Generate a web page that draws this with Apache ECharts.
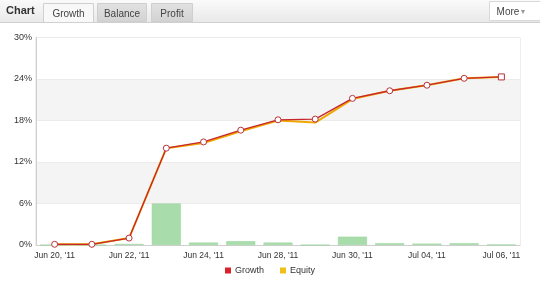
<!DOCTYPE html>
<html>
<head>
<meta charset="utf-8">
<script src="https://cdn.jsdelivr.net/npm/echarts@6/dist/echarts.min.js"></script>
<style>
html,body{margin:0;padding:0;background:#fff;}
#chart{width:540px;height:283px;}
</style>
</head>
<body>
<div id="chart"></div>
<script>
const categories = ["Jun 20, '11","Jun 21, '11","Jun 22, '11","Jun 23, '11","Jun 24, '11","Jun 27, '11","Jun 28, '11","Jun 29, '11","Jun 30, '11","Jul 01, '11","Jul 04, '11","Jul 05, '11","Jul 06, '11"];
const growth = [0.1, 0.1, 1.0, 14.0, 14.9, 16.6, 18.1, 18.2, 21.2, 22.3, 23.1, 24.1, 24.3];
const equity = [0.1, 0.1, 1.0, 14.0, 14.75, 16.45, 18.0, 17.7, 21.1, 22.3, 23.1, 24.1, 24.3];
const dailyBars = [0, 0, 0.15, 6.0, 0.35, 0.55, 0.35, 0, 1.2, 0.25, 0.2, 0.25, 0.05];
const yTickValues = [0, 6, 12, 18, 24, 30];
const tabs = ["Growth", "Balance", "Profit"];

const chart = echarts.init(document.getElementById('chart'), null, {renderer: 'canvas'});
const FONT = 'Liberation Sans, Arial, sans-serif';

const growthData = growth.map((v, i) => i === growth.length - 1
  ? {value: v, symbol: 'rect', symbolSize: 6}
  : v);

chart.setOption({
  animation: false,
  backgroundColor: '#fff',
  grid: {left: 36, right: 20, top: 37.5, bottom: 38, show: true, borderColor: '#dcdcdc', borderWidth: 1},
  xAxis: {
    type: 'category',
    data: categories,
    boundaryGap: true,
    axisLine: {lineStyle: {color: '#cfcfcf'}},
    axisTick: {show: false},
    axisLabel: {interval: 1, color: '#333', fontSize: 8.5, fontFamily: FONT, margin: 6}
  },
  yAxis: {
    type: 'value',
    min: yTickValues[0],
    max: yTickValues[yTickValues.length - 1],
    interval: yTickValues[1] - yTickValues[0],
    axisLine: {show: true, lineStyle: {color: '#cfcfcf'}},
    axisTick: {show: false},
    axisLabel: {formatter: '{value}%', color: '#333', fontSize: 9, fontFamily: FONT, margin: 4},
    splitLine: {show: true, lineStyle: {color: '#ececec'}},
    splitArea: {show: true, areaStyle: {color: ['#ffffff', '#f4f4f4']}}
  },
  legend: {
    bottom: 3,
    left: 'center',
    icon: 'rect',
    itemWidth: 6,
    itemHeight: 6,
    itemGap: 16,
    textStyle: {fontSize: 9, fontFamily: FONT, color: '#333', padding: [0, 0, 0, -1]},
    data: [
      {name: 'Growth', itemStyle: {color: '#d8232a', borderWidth: 0}},
      {name: 'Equity', itemStyle: {color: '#efc01a', borderWidth: 0}}
    ]
  },
  series: [
    {
      name: 'Daily',
      type: 'bar',
      data: dailyBars,
      barWidth: 29,
      itemStyle: {color: '#a9dcab', borderColor: '#97d39a', borderWidth: 0.5},
      z: 1
    },
    {
      name: 'Equity',
      type: 'line',
      data: equity,
      symbol: 'none',
      lineStyle: {color: '#f0a800', width: 2},
      itemStyle: {color: '#f0a800'},
      z: 2
    },
    {
      name: 'Growth',
      type: 'line',
      data: growthData,
      symbol: 'circle',
      symbolSize: 6,
      showAllSymbol: true,
      lineStyle: {color: '#c8262e', width: 1.3},
      itemStyle: {color: '#ffffff', borderColor: '#b8323a', borderWidth: 1},
      z: 3
    }
  ],
  graphic: [
    {type: 'rect', left: 0, top: 0, shape: {width: 540, height: 22},
      style: {fill: new echarts.graphic.LinearGradient(0,0,0,1,[{offset:0,color:'#fafafa'},{offset:1,color:'#e9e9e9'}])}},
    {type: 'line', shape: {x1: 0, y1: 22.5, x2: 540, y2: 22.5}, style: {stroke: '#cfcfcf', lineWidth: 1}},
    {type: 'text', left: 6, top: 5, style: {text: 'Chart', font: 'bold 11px ' + FONT, fill: '#333'}},
    {type: 'rect', shape: {x: 43.5, y: 3.5, width: 50, height: 19},
      style: {fill: '#f8f8f8', stroke: '#d0d0d0', lineWidth: 1}},
    {type: 'rect', shape: {x: 97.5, y: 3.5, width: 49, height: 18},
      style: {fill: new echarts.graphic.LinearGradient(0,0,0,1,[{offset:0,color:'#e2e2e2'},{offset:1,color:'#d2d2d2'}]), stroke: '#cfcfcf', lineWidth: 1}},
    {type: 'rect', shape: {x: 151.5, y: 3.5, width: 41, height: 18},
      style: {fill: new echarts.graphic.LinearGradient(0,0,0,1,[{offset:0,color:'#e2e2e2'},{offset:1,color:'#d2d2d2'}]), stroke: '#cfcfcf', lineWidth: 1}},
    {type: 'text', style: {x: 68.5, y: 14, text: tabs[0], font: '10px ' + FONT, fill: '#444', align: 'center', verticalAlign: 'middle'}},
    {type: 'text', style: {x: 122, y: 14, text: tabs[1], font: '10px ' + FONT, fill: '#444', align: 'center', verticalAlign: 'middle'}},
    {type: 'text', style: {x: 172, y: 14, text: tabs[2], font: '10px ' + FONT, fill: '#444', align: 'center', verticalAlign: 'middle'}},
    {type: 'rect', shape: {x: 489.5, y: 1.5, width: 52, height: 19},
      style: {fill: '#ffffff', stroke: '#d8d8d8', lineWidth: 1}},
    {type: 'text', style: {x: 508, y: 12, text: 'More', font: '10px ' + FONT, fill: '#444', align: 'center', verticalAlign: 'middle'}},
    {type: 'text', style: {x: 523, y: 12, text: '\u25BC', font: '7px ' + FONT, fill: '#999', align: 'center', verticalAlign: 'middle'}}
  ]
});
</script>
</body>
</html>
